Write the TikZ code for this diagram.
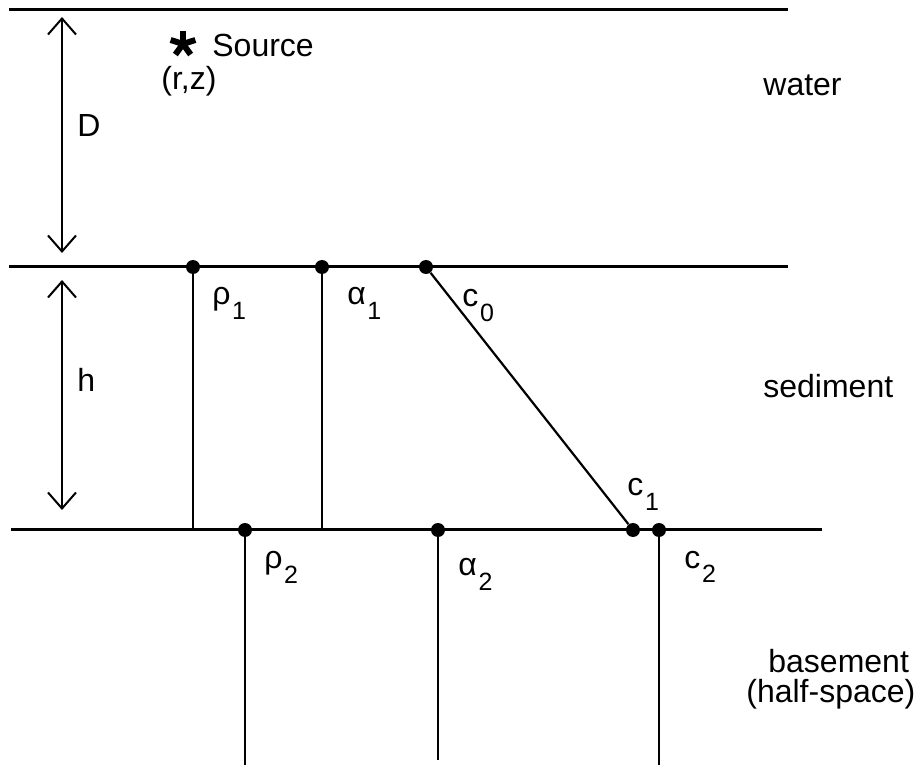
\documentclass[tikz,border=0pt]{standalone}
\usepackage{fontspec}
\setmainfont{Liberation Sans}
\usetikzlibrary{arrows.meta}
\newcommand{\sublbl}[2]{#1\kern0.8pt\raisebox{-7.5pt}{\fontsize{12.5}{14}\selectfont #2}}
\begin{document}
\begin{tikzpicture}[x=0.5pt, y=-0.5pt, font=\fontsize{16}{19}\selectfont,
	lbl/.style={anchor=base west, inner sep=0pt},
	dot/.style={circle, fill, inner sep=0pt, minimum size=7pt},
	iface/.style={line width=1.5pt},
	vline/.style={line width=1.2pt},
	dim/.style={line width=1pt, {Straight Barb[length=8pt,width=14pt]}-{Straight Barb[length=8pt,width=14pt]}}]
	\useasboundingbox (0,0) rectangle (918,765);
	\path (9,10) coordinate (Wl) (788,10) coordinate (Wr) (9,267) coordinate (Sl) (788,267) coordinate (Sr)
		(11,530) coordinate (Bl) (822,530) coordinate (Br) (62,17) coordinate (Dtop) (62,253) coordinate (Dbot)
		(62,280) coordinate (Htop) (62,510) coordinate (Hbot) (183,44) coordinate (Src);
	\draw[iface] (Wl) -- (Wr);
	\draw[iface] (Sl) -- (Sr);
	\draw[iface] (Bl) -- (Br);
	\draw[dim] (Dtop) -- (Dbot);
	\draw[dim] (Htop) -- (Hbot);
	\node[lbl] (D) at (77,137) {D};
	\node[lbl] (h) at (77,392) {h};
	% source
	\foreach \a in {-90,-18,54,126,198} \draw[line width=3pt] (Src) -- ++(\a:13);
	\node[lbl] (source) at (212,57) {Source};
	\node[lbl] (rz) at (161,90) {(r,z)};
	% parameters
	\node[dot] (rho1) at (193,267) {};
	\node[dot] (alpha1) at (322,267) {};
	\node[dot] (c0) at (426,267) {};
	\node[dot] (rho2) at (245,530) {};
	\node[dot] (alpha2) at (438,530) {};
	\node[dot] (c1) at (633,530) {};
	\node[dot] (c2) at (659,530) {};
	\draw[vline] (rho1) -- (rho1 |- Bl);
	\draw[vline] (alpha1) -- (alpha1 |- Bl);
	\draw[line width=1.1pt] (c0) -- (c1);
	\draw[vline] (rho2) -- (245,765);
	\draw[vline] (alpha2) -- (438,760);
	\draw[vline] (c2) -- (659,765);
	\node[lbl] at (212,305) {\sublbl{ρ}{1}};
	\node[lbl] at (347,305) {\sublbl{α}{1}};
	\node[lbl] at (462,307) {\sublbl{c}{0}};
	\node[lbl] at (627,495) {\sublbl{c}{1}};
	\node[lbl] at (264,569) {\sublbl{ρ}{2}};
	\node[lbl] at (458,575) {\sublbl{α}{2}};
	\node[lbl] at (684,568) {\sublbl{c}{2}};
	% layers
	\node[lbl] (water) at (763,96) {water};
	\node[lbl] (sediment) at (763,398) {sediment};
	\node[lbl] (basement) at (768,673) {basement};
	\node[lbl] (halfspace) at (746,703) {(half-space)};
\end{tikzpicture}
\end{document}
